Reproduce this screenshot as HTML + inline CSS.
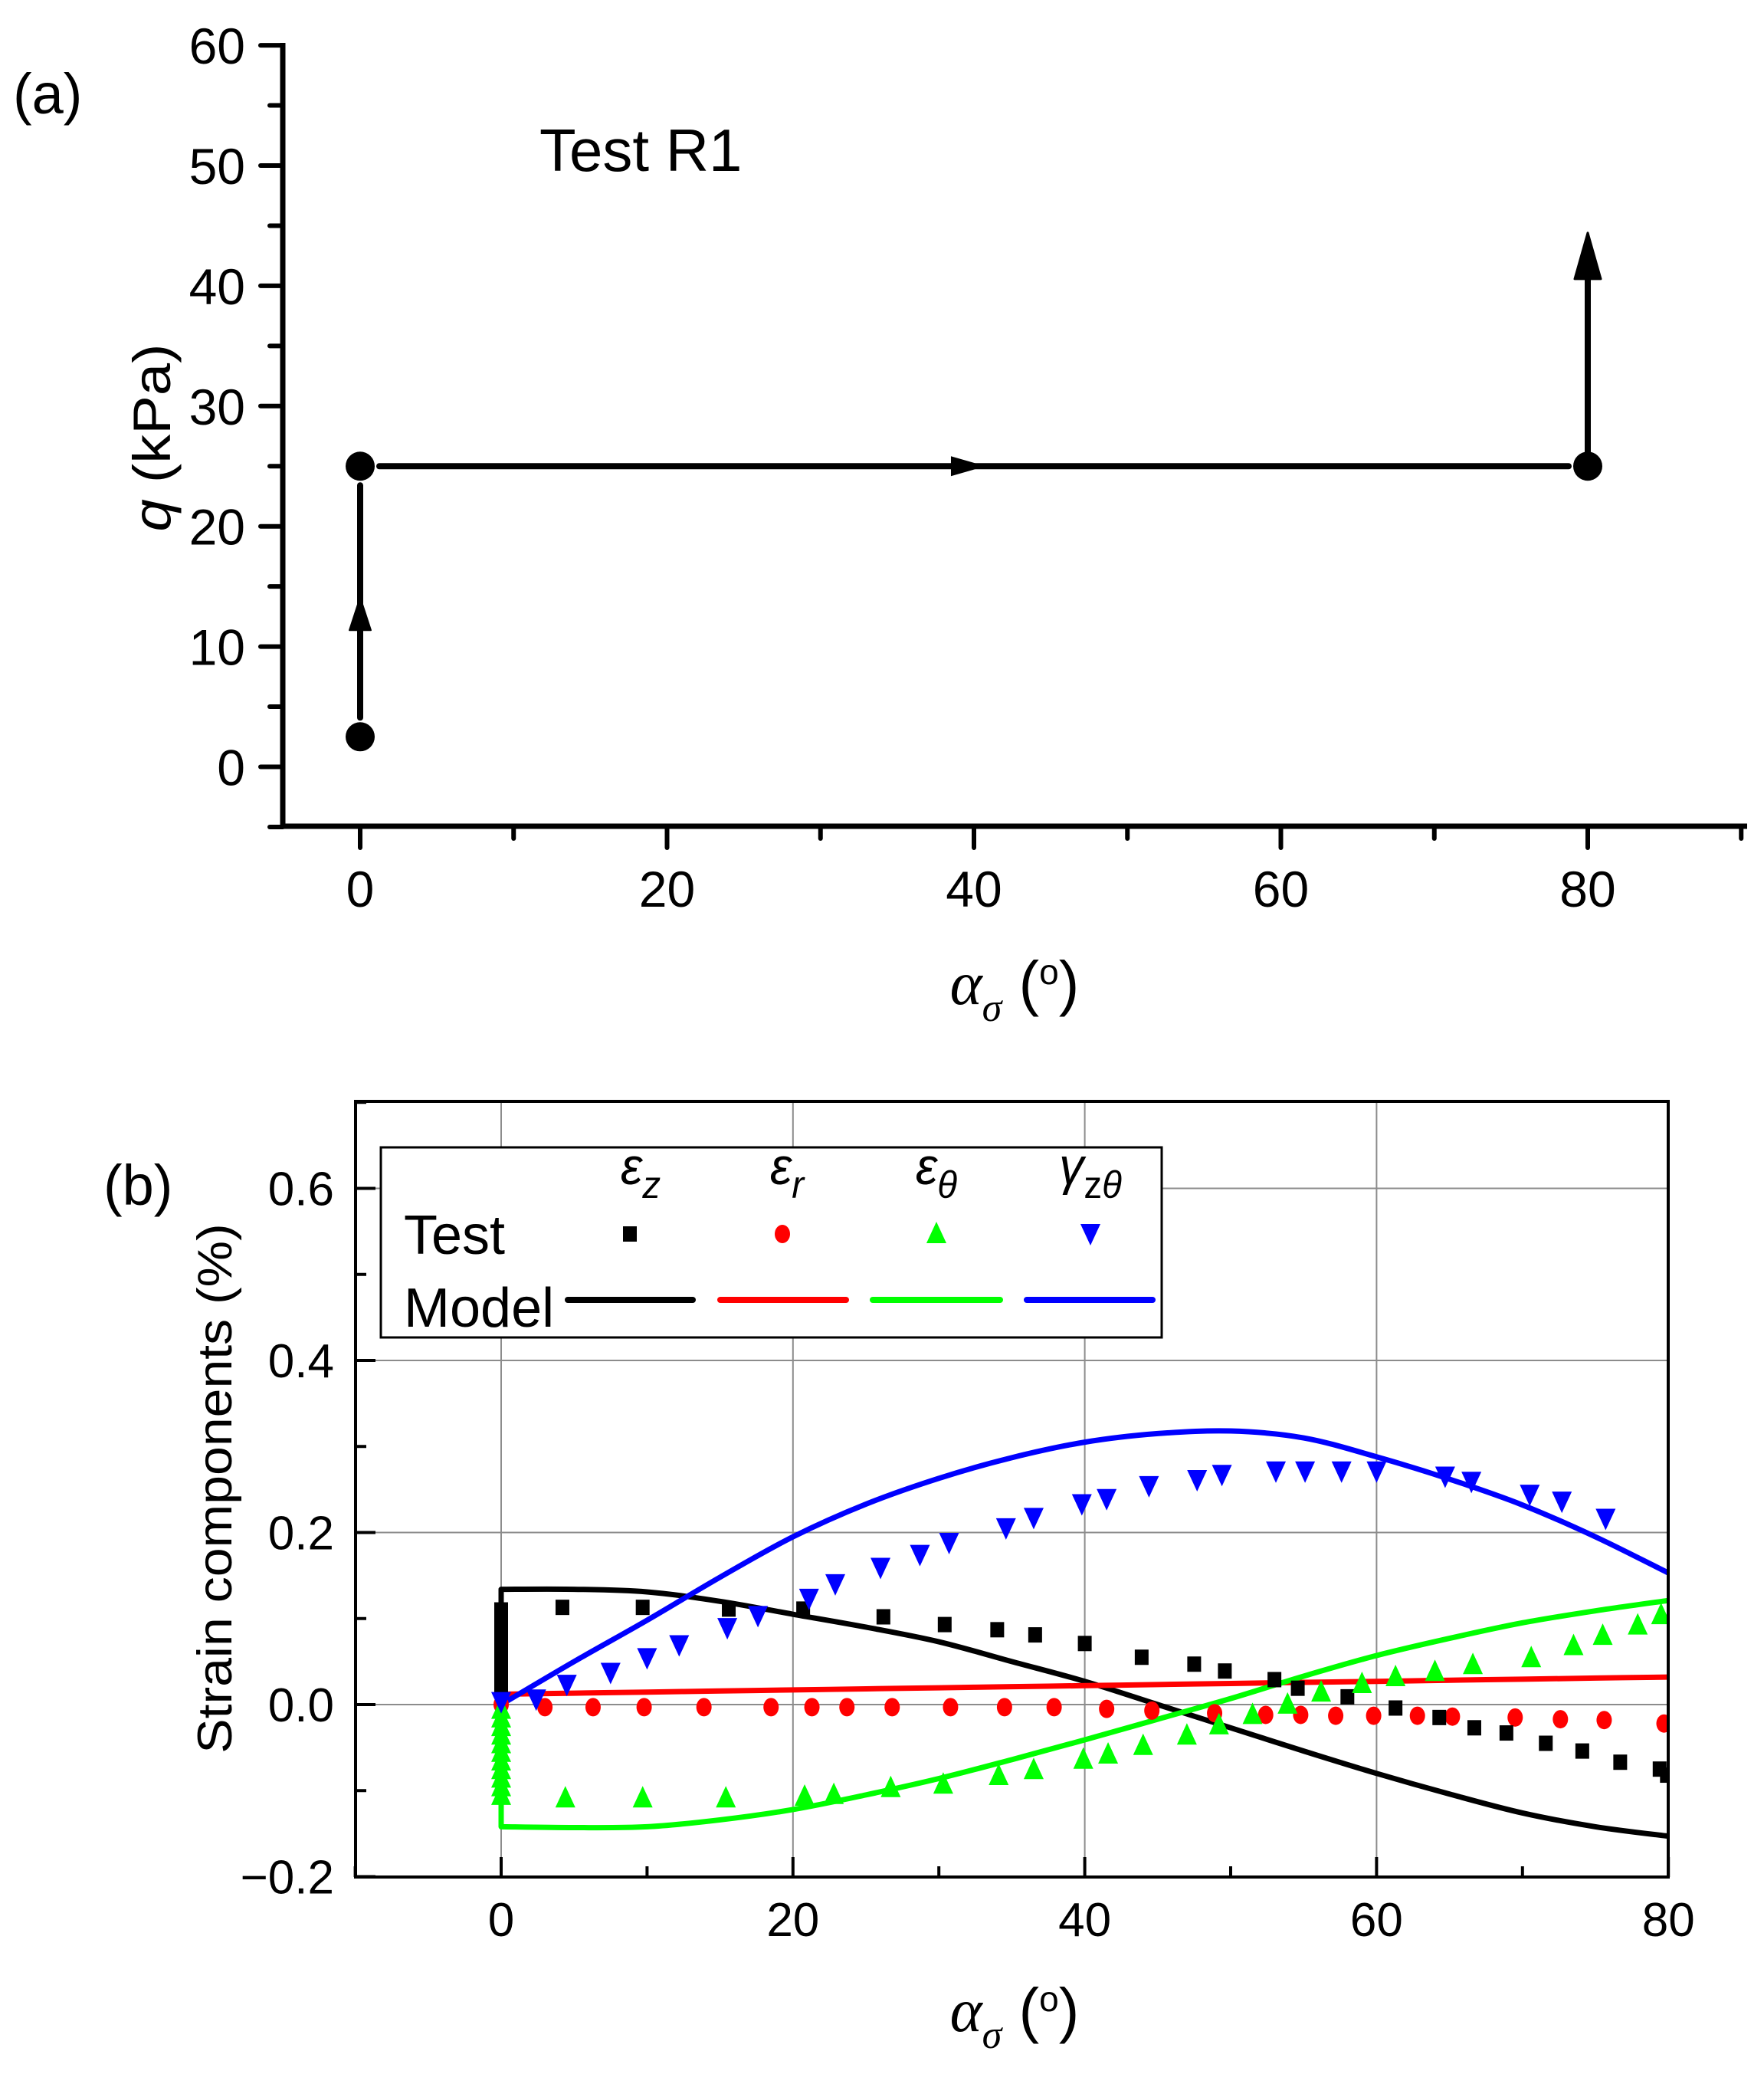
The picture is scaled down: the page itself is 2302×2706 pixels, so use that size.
<!DOCTYPE html>
<html><head><meta charset="utf-8"><style>
html,body{margin:0;padding:0;background:#fff}
svg{display:block}
text{font-family:"Liberation Sans",sans-serif;fill:#000}
</style></head><body>
<svg id="fig" width="2302" height="2706" viewBox="0 0 2302 2706" xmlns="http://www.w3.org/2000/svg">
<g id="pa"></g>
<g id="pb"></g>
</svg>
<script>
// ---------- Panel (a) data ----------
const aPathX = [0, 0, 80, 80];
const aPathY = [2.5, 25, 25, 44.4];
const aXTicks = [0, 20, 40, 60, 80];
const aYTicks = [0, 10, 20, 30, 40, 50, 60];

// ---------- Panel (b) data ----------
const bXTicks = [0, 20, 40, 60, 80];
const bYTicks = [-0.2, 0, 0.2, 0.4, 0.6];
const bYTickLabels = ["\u22120.2", "0.0", "0.2", "0.4", "0.6"];
const modelX = [0, 5, 10, 15, 20, 25, 30, 35, 40, 45, 50, 55, 60, 65, 70, 75, 80];
const modelEz = [0.134, 0.134, 0.131, 0.12, 0.105, 0.09, 0.073, 0.05, 0.027, 0.0, -0.027, -0.054, -0.08, -0.104, -0.126, -0.142, -0.153];
const modelEr = [0.012, 0.0133, 0.0145, 0.0158, 0.017, 0.0183, 0.0195, 0.0208, 0.022, 0.0233, 0.0245, 0.0258, 0.027, 0.0283, 0.0295, 0.0308, 0.032];
const modelEt = [-0.142, -0.143, -0.142, -0.134, -0.122, -0.105, -0.086, -0.064, -0.041, -0.017, 0.007, 0.033, 0.057, 0.077, 0.095, 0.109, 0.121];
const modelGz = [0, 0.05, 0.098, 0.148, 0.195, 0.233, 0.263, 0.287, 0.305, 0.315, 0.318, 0.31, 0.288, 0.262, 0.232, 0.195, 0.153];
const testEzX = [0,0,0,0,0,0,0,0,0,0, 4.2, 9.7, 15.6, 20.7, 26.2, 30.4, 34, 36.6, 40, 43.9, 47.5, 49.6, 53, 54.6, 58, 61.3, 64.3, 66.7, 68.9, 71.6, 74.1, 76.7, 79.4, 79.9];
const testEzY = [0.02,0.03,0.04,0.05,0.06,0.07,0.08,0.09,0.10,0.11, 0.113, 0.113, 0.111, 0.111, 0.102, 0.093, 0.087, 0.081, 0.071, 0.055, 0.047, 0.039, 0.029, 0.019, 0.009, -0.004, -0.015, -0.027, -0.033, -0.045, -0.054, -0.067, -0.075, -0.082];
const testErX = [0, 3, 6.3, 9.8, 13.9, 18.5, 21.3, 23.7, 26.8, 30.8, 34.5, 37.9, 41.5, 44.6, 48.9, 52.4, 54.8, 57.2, 59.8, 62.8, 65.2, 69.5, 72.6, 75.6, 79.7];
const testErY = [0, -0.003, -0.003, -0.003, -0.003, -0.003, -0.003, -0.003, -0.003, -0.003, -0.003, -0.003, -0.005, -0.007, -0.01, -0.012, -0.012, -0.013, -0.013, -0.013, -0.014, -0.015, -0.017, -0.018, -0.022];
const testEtX = [0,0,0,0,0,0,0,0,0,0,0, 4.4, 9.7, 15.4, 20.8, 22.8, 26.7, 30.3, 34.1, 36.5, 39.9, 41.6, 44, 47, 49.2, 51.5, 53.9, 56.2, 59, 61.3, 64, 66.6, 70.6, 73.5, 75.5, 77.9, 79.5];
const testEtY = [-0.005,-0.015,-0.025,-0.035,-0.045,-0.055,-0.065,-0.075,-0.085,-0.095,-0.105, -0.108, -0.108, -0.108, -0.106, -0.104, -0.096, -0.092, -0.082, -0.075, -0.063, -0.057, -0.047, -0.035, -0.023, -0.011, 0.001, 0.015, 0.025, 0.033, 0.039, 0.047, 0.055, 0.069, 0.081, 0.093, 0.105];
const testGzX = [0, 2.4, 4.5, 7.5, 10, 12.2, 15.5, 17.6, 21.1, 22.9, 26, 28.7, 30.7, 34.6, 36.5, 39.8, 41.5, 44.4, 47.7, 49.4, 53.1, 55.1, 57.6, 60, 64.7, 66.5, 70.5, 72.7, 75.7];
const testGzY = [0.003, 0.006, 0.023, 0.037, 0.054, 0.069, 0.089, 0.103, 0.123, 0.14, 0.159, 0.174, 0.188, 0.205, 0.217, 0.233, 0.239, 0.254, 0.261, 0.267, 0.271, 0.271, 0.271, 0.271, 0.265, 0.259, 0.244, 0.236, 0.216];

const NS = "http://www.w3.org/2000/svg";
function mk(parent, tag, attrs) {
  const e = document.createElementNS(NS, tag);
  for (const k in attrs) e.setAttribute(k, attrs[k]);
  parent.appendChild(e);
  return e;
}
function txt(parent, x, y, s, size, anchor, sx, extra) {
  const t = mk(parent, "text", {x: 0, y: 0, "font-size": size, "text-anchor": anchor || "start",
    transform: "translate(" + x + "," + y + ") scale(" + (sx || 1) + ",1)" + (extra || "")});
  t.innerHTML = s;
  return t;
}

// ---------- Panel (a) ----------
const pa = document.getElementById("pa");
const ax = v => 470 + v * 20.025;
const ay = v => 1000.5 - v * 15.69;
let el;
el = mk(pa, "line", {x1: 369, y1: 56, x2: 369, y2: 1081, stroke: "#000", "stroke-width": 7});


el = mk(pa, "line", {x1: 366, y1: 1078, x2: 2280, y2: 1078, stroke: "#000", "stroke-width": 7});


for (let v = -5; v <= 60; v += 5) {
  const major = v % 10 === 0;
  el = mk(pa, "line", {x1: major ? 340 : 352, y1: ay(v), x2: 369, y2: ay(v), stroke: "#000", "stroke-width": 6, "stroke-linecap": "round"});
  
  
}
aYTicks.forEach(v => {
  el = txt(pa, 320, ay(v) + 24, String(v), 66, "end");
  
  
});
for (let v = 0; v <= 90; v += 10) {
  const major = v % 20 === 0;
  el = mk(pa, "line", {x1: ax(v), y1: 1078, x2: ax(v), y2: major ? 1106 : 1094, stroke: "#000", "stroke-width": 6, "stroke-linecap": "round"});
  
  
}
aXTicks.forEach(v => {
  el = txt(pa, ax(v), 1183, String(v), 66, "middle");
  
  
});
el = txt(pa, 222, 571, '<tspan font-style="italic">q</tspan> (kPa)', 76, "middle", 0.9, " rotate(-90)");


el = txt(pa, 1324, 1310, '<tspan font-family="Liberation Serif" font-style="italic">α</tspan><tspan font-family="Liberation Serif" font-style="italic" font-size="52" dy="22">σ</tspan><tspan dy="-22"> (</tspan><tspan font-size="46" dy="-26">o</tspan><tspan dy="26">)</tspan>', 80, "middle", 1);


el = txt(pa, 17, 148, "(a)", 74, "start");


el = txt(pa, 704, 223, "Test R1", 78, "start");


const sp = [];
for (let i = 0; i < aPathX.length; i++) sp.push([ax(aPathX[i]), ay(aPathY[i])]);
el = mk(pa, "line", {x1: sp[0][0], y1: sp[0][1] - 25, x2: sp[1][0], y2: sp[1][1] + 25, stroke: "#000", "stroke-width": 8, "stroke-linecap": "round"});


el = mk(pa, "line", {x1: sp[1][0] + 25, y1: sp[1][1], x2: sp[2][0] - 25, y2: sp[2][1], stroke: "#000", "stroke-width": 8, "stroke-linecap": "round"});


el = mk(pa, "line", {x1: sp[2][0], y1: sp[2][1], x2: sp[3][0], y2: sp[3][1] + 40, stroke: "#000", "stroke-width": 8});


const midY = ay(14.1);
el = mk(pa, "polygon", {points: `${sp[0][0]},${midY} ${sp[0][0]-14},${midY+43} ${sp[0][0]+14},${midY+43}`, fill: "#000", stroke: "#000", "stroke-width": 2, "stroke-linejoin": "round"});


const midX = ax(38.5);
el = mk(pa, "polygon", {points: `${midX+45},${sp[1][1]} ${midX},${sp[1][1]-13} ${midX},${sp[1][1]+13}`, fill: "#000"});


el = mk(pa, "polygon", {points: `${sp[3][0]},${sp[3][1]} ${sp[3][0]-17},${sp[3][1]+60} ${sp[3][0]+17},${sp[3][1]+60}`, fill: "#000", stroke: "#000", "stroke-width": 3, "stroke-linejoin": "round"});


for (let i = 0; i < 3; i++) {
  el = mk(pa, "circle", {cx: sp[i][0], cy: sp[i][1], r: 19, fill: "#000"});
  
  
}

// ---------- Panel (b) ----------
const pb = document.getElementById("pb");
const L = 464, R = 2177, T = 1437, B = 2449;
const bx = v => 654 + v * 19.04;
const by = v => 2224 - v * 1122.5;
bXTicks.forEach(v => {
  el = mk(pb, "line", {x1: bx(v), y1: T, x2: bx(v), y2: B, stroke: "#8c8c8c", "stroke-width": 2});
  
  
});
bYTicks.forEach(v => {
  if (v > -0.2) {
    el = mk(pb, "line", {x1: L, y1: by(v), x2: R, y2: by(v), stroke: "#8c8c8c", "stroke-width": 2});
    
    
  }
});
for (let v = -10; v <= 80; v += 10) {
  const major = v % 20 === 0;
  el = mk(pb, "line", {x1: bx(v), y1: B, x2: bx(v), y2: B - (major ? 26 : 14), stroke: "#000", "stroke-width": 4});
  
  
}
for (let v = -0.2; v <= 0.71; v += 0.1) {
  const major = Math.round(v * 10) % 2 === 0;
  el = mk(pb, "line", {x1: L, y1: by(v), x2: L + (major ? 26 : 14), y2: by(v), stroke: "#000", "stroke-width": 4});
  
  
}
bXTicks.forEach(v => {
  el = txt(pb, bx(v), 2526, String(v), 62, "middle");
  
  
});
bYTicks.forEach((v, i) => {
  el = txt(pb, 436, by(v) + 22, bYTickLabels[i], 62, "end");
  
  
});
el = txt(pb, 302, 1942, "Strain components (%)", 68, "middle", 0.93, " rotate(-90)");


el = txt(pb, 1324, 2650, '<tspan font-family="Liberation Serif" font-style="italic">α</tspan><tspan font-family="Liberation Serif" font-style="italic" font-size="52" dy="22">σ</tspan><tspan dy="-22"> (</tspan><tspan font-size="46" dy="-26">o</tspan><tspan dy="26">)</tspan>', 80, "middle", 1);


el = txt(pb, 135, 1572, "(b)", 74, "start");



const defs = mk(pb, "defs", {});
const cp = mk(defs, "clipPath", {id: "clipb"});
mk(cp, "rect", {x: L, y: T, width: R - L, height: B - T});
const plot = mk(pb, "g", {"clip-path": "url(#clipb)"});



function smoothPath(pts) {
  let d = "M" + pts[0][0] + "," + pts[0][1];
  for (let i = 0; i < pts.length - 1; i++) {
    const p0 = pts[Math.max(0, i - 1)], p1 = pts[i], p2 = pts[i + 1], p3 = pts[Math.min(pts.length - 1, i + 2)];
    const c1x = p1[0] + (p2[0] - p0[0]) / 6, c1y = p1[1] + (p2[1] - p0[1]) / 6;
    const c2x = p2[0] - (p3[0] - p1[0]) / 6, c2y = p2[1] - (p3[1] - p1[1]) / 6;
    d += " C" + c1x + "," + c1y + " " + c2x + "," + c2y + " " + p2[0] + "," + p2[1];
  }
  return d;
}
function modelLine(ys, color, name, jump) {
  const pts = modelX.map((x, i) => [bx(x), by(ys[i])]);
  let d = smoothPath(pts);
  if (jump) d = "M" + bx(0) + "," + by(0) + " L" + pts[0][0] + "," + pts[0][1] + " " + d.replace(/^M/, "L");
  const p = mk(plot, "path", {d: d, fill: "none", stroke: color, "stroke-width": 7, "stroke-linejoin": "round"});
  
  
}
modelLine(modelEz, "#000", "model-line-ez", true);
modelLine(modelEr, "#ff0000", "model-line-er", true);
modelLine(modelEt, "#00ff00", "model-line-etheta", true);
modelLine(modelGz, "#0000ff", "model-line-gamma", false);

function sq(g, x, y) { return mk(g, "rect", {x: x - 9, y: y - 10, width: 18, height: 20, fill: "#000"}); }
function circ(g, x, y) { return mk(g, "ellipse", {cx: x, cy: y, rx: 10, ry: 12, fill: "#ff0000"}); }
function tup(g, x, y) { return mk(g, "polygon", {points: `${x},${y-15} ${x-13},${y+13} ${x+13},${y+13}`, fill: "#00ff00"}); }
function tdn(g, x, y) { return mk(g, "polygon", {points: `${x-13},${y-13} ${x+13},${y-13} ${x},${y+15}`, fill: "#0000ff"}); }

testErX.forEach((v, i) => { el = circ(plot, bx(v), by(testErY[i]));   });
testEzX.forEach((v, i) => { el = sq(plot, bx(v), by(testEzY[i]));   });
testEtX.forEach((v, i) => { el = tup(plot, bx(v), by(testEtY[i]));   });
testGzX.forEach((v, i) => { el = tdn(plot, bx(v), by(testGzY[i]));   });

el = mk(pb, "rect", {x: L, y: T, width: R - L, height: B - T, fill: "none", stroke: "#000", "stroke-width": 4});



const lg = mk(pb, "g", {});


el = mk(lg, "rect", {x: 497, y: 1497, width: 1019, height: 248, fill: "#fff", stroke: "#000", "stroke-width": 3});


el = txt(lg, 527, 1636, "Test", 72, "start");


el = txt(lg, 527, 1731, "Model", 72, "start");


const hdrX = [836, 1027, 1222, 1423];
const hdrs = ['ε<tspan font-family="Liberation Sans" font-size="50" dy="18">z</tspan>',
  'ε<tspan font-size="50" dy="18">r</tspan>',
  'ε<tspan font-size="50" dy="18">θ</tspan>',
  'γ<tspan font-family="Liberation Sans" font-size="50" dy="18" font-style="normal">z</tspan><tspan font-size="50" font-style="italic">θ</tspan>'];
hdrs.forEach((h, i) => {
  el = txt(lg, hdrX[i], 1545, h, 68, "middle", 0.95);
  el.setAttribute("font-family", "Liberation Serif");
  el.setAttribute("font-style", "italic");
  
  
});
el = sq(lg, 822, 1610);  
el = circ(lg, 1021, 1610);  
el = tup(lg, 1222, 1609);  
el = tdn(lg, 1423, 1610);  
const lc = ["#000", "#ff0000", "#00ff00", "#0000ff"];
const lx = [[741, 904], [940, 1104], [1139, 1305], [1340, 1504]];
lc.forEach((c, i) => {
  el = mk(lg, "line", {x1: lx[i][0], y1: 1696, x2: lx[i][1], y2: 1696, stroke: c, "stroke-width": 8, "stroke-linecap": "round"});
  
  
});
</script>
</body></html>
